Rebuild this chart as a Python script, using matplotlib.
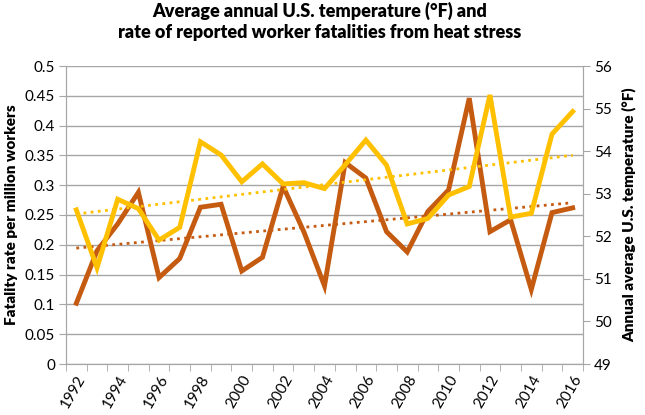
import matplotlib
matplotlib.use("Agg")
import matplotlib.pyplot as plt
import numpy as np

plt.rcParams['font.family'] = ['Lato', 'DejaVu Sans']

# data
years = list(range(1992, 2017))
fatality_rate = [0.102, 0.19, 0.235, 0.288, 0.145, 0.177, 0.263, 0.268, 0.156, 0.179,
                 0.298, 0.222, 0.131, 0.338, 0.312, 0.222, 0.188, 0.256, 0.292, 0.446,
                 0.222, 0.242, 0.125, 0.254, 0.262]
avg_temp = [52.62, 51.26, 52.87, 52.65, 51.91, 52.21, 54.22, 53.91, 53.28, 53.70,
            53.23, 53.26, 53.12, 53.68, 54.26, 53.67, 52.29, 52.42, 52.97, 53.17,
            55.32, 52.45, 52.54, 54.40, 54.93]
year_labels = [str(y) if (y - 1992) % 2 == 0 else '' for y in years]

brown = '#C55A11'
gold = '#FFC000'
grey = '#A6A6A6'

fig = plt.figure(figsize=(6.45, 4.15), dpi=100)
ax = fig.add_axes([66/645, 1-364/415, 517/645, 298/415])
ax2 = ax.twinx()

x = np.arange(len(years))

# trend lines
cf = np.polyfit(x, fatality_rate, 1)
ct = np.polyfit(x, avg_temp, 1)
ax.plot(x, np.polyval(cf, x), color=brown, lw=2, ls=(0, (1, 1.6)), zorder=3)
ax2.plot(x, np.polyval(ct, x), color=gold, lw=2, ls=(0, (1, 1.6)), zorder=3)

ax.plot(x, fatality_rate, color=brown, lw=3.5, zorder=4, solid_joinstyle='miter')
ax2.plot(x, avg_temp, color=gold, lw=3.5, zorder=4, solid_joinstyle='miter')

ax.set_xlim(-0.5, len(years) - 0.5)
ax.set_ylim(0, 0.5)
ax2.set_ylim(49, 56)
ax.set_yticks(np.arange(0, 0.51, 0.05))
ax.set_yticklabels(['0', '0.05', '0.1', '0.15', '0.2', '0.25', '0.3', '0.35', '0.4', '0.45', '0.5'])
ax2.set_yticks(range(49, 57))

ax.set_xticks(x)
ax.set_xticklabels(year_labels, rotation=60, ha='right', rotation_mode='anchor')
ax.set_xticks(np.arange(-0.5, len(years)), minor=True)
ax.tick_params(axis='x', which='major', length=0, pad=6, labelsize=11)
ax.tick_params(axis='x', which='minor', length=5, color=grey)
ax.tick_params(axis='y', length=5, color=grey, labelsize=11, pad=3)
ax2.tick_params(axis='y', length=5, color=grey, labelsize=11, pad=3)

ax.yaxis.grid(True, color=grey, lw=1)
ax.set_axisbelow(True)
for a in (ax, ax2):
    a.spines['top'].set_visible(False)
    for s in ('left', 'right', 'bottom'):
        a.spines[s].set_color(grey)

ax.set_ylabel('Fatality rate per million workers', fontsize=11, fontweight='heavy', labelpad=5)
ax2.set_ylabel('Annual average U.S. temperature (°F)', fontsize=11, fontweight='heavy', labelpad=7)

fig.text(0.495, 0.995, 'Average annual U.S. temperature (°F) and\nrate of reported worker fatalities from heat stress',
         ha='center', va='top', fontsize=13, fontweight='heavy', linespacing=1.3)

fig.savefig('out.png', dpi=100)
